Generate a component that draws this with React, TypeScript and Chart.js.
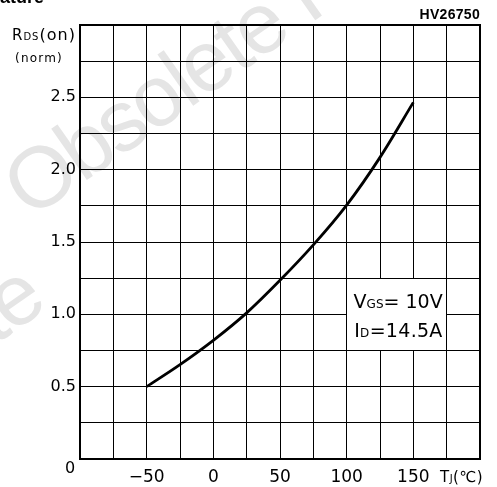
import { useEffect, useRef } from 'react';
import { Chart, registerables } from 'chart.js';

Chart.register(...registerables);

// Junction temperature (°C) and normalized RDS(on)
const temps = [-50, -25, 0, 25, 50, 75, 100, 125, 150];
const rdsNorm = [0.5, 0.652, 0.82, 1.01, 1.235, 1.48, 1.755, 2.085, 2.465];

const xTickLabels = [-50, 0, 50, 100, 150];
const yTickLabels = [0.5, 1.0, 1.5, 2.0, 2.5];

type Part = [string, string];

function drawParts(ctx: CanvasRenderingContext2D, parts: Part[], x: number, y: number, align: 'left' | 'right', spacing = 0) {
  ctx.save();
  (ctx as any).letterSpacing = spacing + 'px';
  ctx.textBaseline = 'alphabetic';
  ctx.textAlign = 'left';
  ctx.fillStyle = '#000';
  let total = 0;
  const ws = parts.map(([t, f]) => {
    ctx.font = f;
    const w = ctx.measureText(t).width;
    total += w;
    return w;
  });
  let cx = align === 'right' ? x - total : x;
  parts.forEach(([t, f], i) => {
    ctx.font = f;
    ctx.fillText(t, cx, y);
    cx += ws[i];
  });
  ctx.restore();
}

const F = '"DejaVu Sans", sans-serif';

const decorPlugin = {
  id: 'decor',
  beforeDraw(chart: any) {
    const ctx: CanvasRenderingContext2D = chart.ctx;
    const ang = (-35 * Math.PI) / 180;
    ctx.save();
    ctx.fillStyle = '#e5e5e5';
    (ctx as any).letterSpacing = '-3px';
    ctx.font = '86px "Liberation Sans", sans-serif';
    ctx.translate(30, 220);
    ctx.rotate(ang);
    ctx.textAlign = 'left';
    ctx.fillText('Obsolete Product(s)', 0, 0);
    ctx.restore();
    ctx.save();
    ctx.fillStyle = '#e5e5e5';
    (ctx as any).letterSpacing = '-3px';
    ctx.font = '86px "Liberation Sans", sans-serif';
    ctx.translate(48, 308);
    ctx.rotate(ang);
    ctx.textAlign = 'right';
    ctx.fillText('Obsolete', 0, 0);
    ctx.restore();
  },
  beforeDatasetsDraw(chart: any) {
    const ctx: CanvasRenderingContext2D = chart.ctx;
    const xs = chart.scales.x;
    const ys = chart.scales.y;
    const al = (p: number) => Math.round(p - 0.5) + 0.5;
    const l = al(xs.getPixelForValue(100)) + 0.5;
    const r = al(xs.getPixelForValue(175)) - 0.5;
    const t = al(ys.getPixelForValue(1.25)) + 0.5;
    const b = al(ys.getPixelForValue(0.75)) - 0.5;
    ctx.save();
    ctx.fillStyle = '#fff';
    ctx.fillRect(l, t, r - l, b - t);
    ctx.restore();
    const right = xs.getPixelForValue(175) - 4;
    const y1 = ys.getPixelForValue(1.0);
    drawParts(ctx, [['V', `19px ${F}`], ['GS', `12px ${F}`], ['= 10V', `19px ${F}`]], right, y1 - 6, 'right', 0);
    drawParts(ctx, [['I', `19px ${F}`], ['D', `12px ${F}`], ['=14.5A', `19px ${F}`]], right, y1 + 23, 'right', 0.3);
  },
  afterDraw(chart: any) {
    const ctx: CanvasRenderingContext2D = chart.ctx;
    const a = chart.chartArea;
    const xs = chart.scales.x;
    const ys = chart.scales.y;
    ctx.save();
    ctx.strokeStyle = '#000';
    ctx.lineWidth = 2;
    ctx.strokeRect(Math.round(a.left), Math.round(a.top), Math.round(a.right - a.left), Math.round(a.bottom - a.top));
    ctx.restore();
    // zero label at the corner
    ctx.save();
    ctx.font = `16px ${F}`;
    ctx.fillStyle = '#000';
    ctx.textAlign = 'center';
    ctx.textBaseline = 'middle';
    ctx.fillText('0', a.left - 10, ys.getPixelForValue(0) + 10);
    ctx.restore();
    drawParts(ctx, [['R', `15px ${F}`], ['DS', `10px ${F}`], ['(on)', `16px ${F}`]], 12, a.top + 15, 'left', 1);
    drawParts(ctx, [['(norm)', `12px ${F}`]], 15, a.top + 37, 'left', 1.2);
    drawParts(ctx, [['HV26750', 'bold 14px "Liberation Sans", sans-serif']], a.right, a.top - 6, 'right', 0.3);
    drawParts(ctx, [['T', `15px ${F}`], ['J', `10px ${F}`], ['(℃)', `15px ${F}`]], xs.getPixelForValue(170), a.bottom + 23, 'left', 0.5);
    drawParts(ctx, [['ature', 'bold 18px "Liberation Sans", sans-serif']], 0, 3, 'left', 0);
  },
};

export default function App() {
  const ref = useRef<HTMLCanvasElement | null>(null);
  useEffect(() => {
    if (!ref.current) return;
    const chart = new Chart(ref.current, {
      type: 'line',
      data: {
        datasets: [
          {
            data: temps.map((t, i) => ({ x: t, y: rdsNorm[i] })),
            borderColor: '#000',
            borderWidth: 2.8,
            pointRadius: 0,
            fill: false,
            cubicInterpolationMode: 'monotone',
          },
        ],
      },
      options: {
        animation: false,
        responsive: false,
        maintainAspectRatio: false,
        layout: { padding: { left: 0, top: 25, right: 17, bottom: 0 } },
        plugins: { legend: { display: false }, tooltip: { enabled: false } },
        scales: {
          x: {
            type: 'linear',
            min: -100,
            max: 200,
            afterFit: (s: any) => {
              s.height = 28;
            },
            ticks: {
              stepSize: 25,
              autoSkip: false,
              maxRotation: 0,
              padding: 8,
              color: '#000',
              font: { family: 'DejaVu Sans', size: 17 },
              callback: (v: any) => {
                const n = Number(v);
                if (!xTickLabels.includes(n)) return '';
                return n < 0 ? '\u2212' + -n : String(n);
              },
            },
            grid: { color: '#000', lineWidth: 1, drawTicks: false },
            border: { display: true, color: '#000', width: 2 },
          },
          y: {
            type: 'linear',
            min: 0,
            max: 3,
            afterFit: (s: any) => {
              s.width = 80;
            },
            ticks: {
              stepSize: 0.25,
              autoSkip: false,
              padding: 4,
              color: '#000',
              font: { family: 'DejaVu Sans', size: 16 },
              callback: (v: any) => {
                const n = Number(v);
                return yTickLabels.includes(n) ? n.toFixed(1) : '';
              },
            },
            grid: { color: '#000', lineWidth: 1, drawTicks: false },
            border: { display: true, color: '#000', width: 2 },
          },
        },
      } as any,
      plugins: [decorPlugin],
    });
    return () => chart.destroy();
  }, []);
  return (
    <div style={{ position: 'fixed', left: 0, top: 0, width: 497, height: 487, background: '#fff' }}>
      <canvas ref={ref} width={497} height={487} style={{ display: 'block' }} />
    </div>
  );
}
